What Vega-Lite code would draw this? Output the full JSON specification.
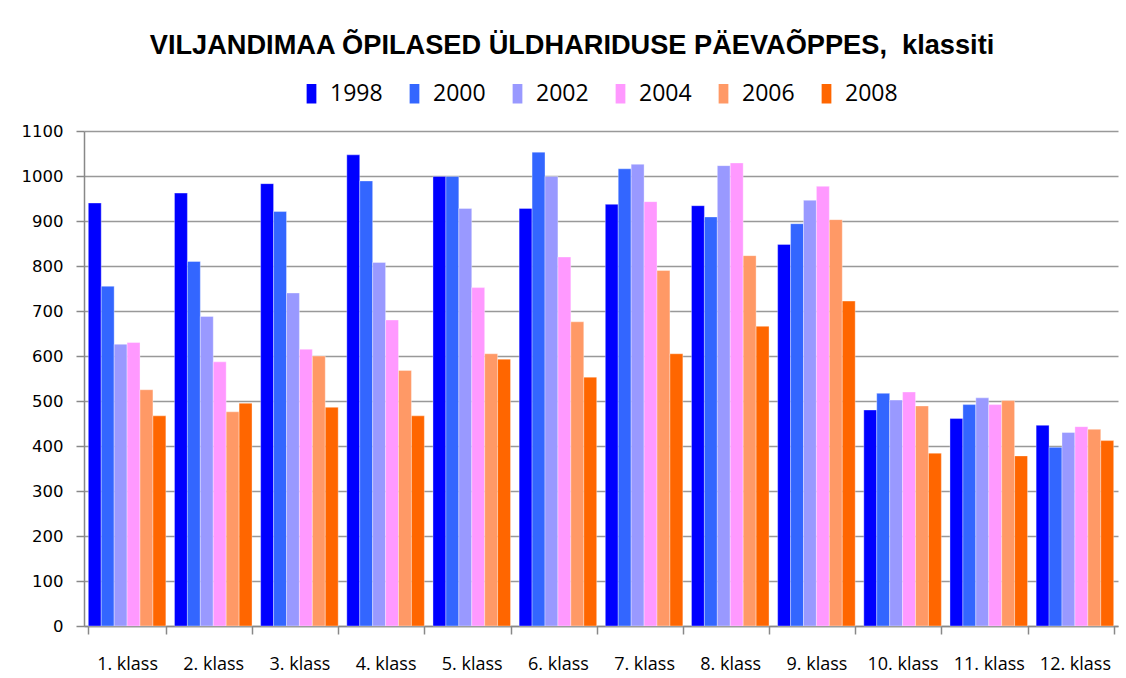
{
  "$schema": "https://vega.github.io/schema/vega-lite/v6.json",
  "width": 1034,
  "height": 495,
  "autosize": "none",
  "padding": {"left": 84, "top": 131, "right": 8, "bottom": 52},
  "background": "white",
  "title": {
    "text": "VILJANDIMAA ÕPILASED ÜLDHARIDUSE PÄEVAÕPPES, \u00a0klassiti",
    "font": "Liberation Sans",
    "fontSize": 27.2,
    "fontWeight": "bold",
    "color": "black",
    "anchor": "middle",
    "frame": "group",
    "dx": -29,
    "offset": 22
  },
  "data": {
    "values": [
      {"klass": "1. klass", "aasta": "1998", "v": 940},
      {"klass": "1. klass", "aasta": "2000", "v": 755},
      {"klass": "1. klass", "aasta": "2002", "v": 626},
      {"klass": "1. klass", "aasta": "2004", "v": 630},
      {"klass": "1. klass", "aasta": "2006", "v": 525},
      {"klass": "1. klass", "aasta": "2008", "v": 467},
      {"klass": "2. klass", "aasta": "1998", "v": 962},
      {"klass": "2. klass", "aasta": "2000", "v": 810},
      {"klass": "2. klass", "aasta": "2002", "v": 688},
      {"klass": "2. klass", "aasta": "2004", "v": 587},
      {"klass": "2. klass", "aasta": "2006", "v": 476},
      {"klass": "2. klass", "aasta": "2008", "v": 495},
      {"klass": "3. klass", "aasta": "1998", "v": 983},
      {"klass": "3. klass", "aasta": "2000", "v": 921},
      {"klass": "3. klass", "aasta": "2002", "v": 740},
      {"klass": "3. klass", "aasta": "2004", "v": 615},
      {"klass": "3. klass", "aasta": "2006", "v": 600},
      {"klass": "3. klass", "aasta": "2008", "v": 486},
      {"klass": "4. klass", "aasta": "1998", "v": 1047},
      {"klass": "4. klass", "aasta": "2000", "v": 989},
      {"klass": "4. klass", "aasta": "2002", "v": 808},
      {"klass": "4. klass", "aasta": "2004", "v": 680},
      {"klass": "4. klass", "aasta": "2006", "v": 568},
      {"klass": "4. klass", "aasta": "2008", "v": 467},
      {"klass": "5. klass", "aasta": "1998", "v": 999},
      {"klass": "5. klass", "aasta": "2000", "v": 999},
      {"klass": "5. klass", "aasta": "2002", "v": 928},
      {"klass": "5. klass", "aasta": "2004", "v": 752},
      {"klass": "5. klass", "aasta": "2006", "v": 605},
      {"klass": "5. klass", "aasta": "2008", "v": 593},
      {"klass": "6. klass", "aasta": "1998", "v": 928},
      {"klass": "6. klass", "aasta": "2000", "v": 1053},
      {"klass": "6. klass", "aasta": "2002", "v": 999},
      {"klass": "6. klass", "aasta": "2004", "v": 820},
      {"klass": "6. klass", "aasta": "2006", "v": 676},
      {"klass": "6. klass", "aasta": "2008", "v": 553},
      {"klass": "7. klass", "aasta": "1998", "v": 937},
      {"klass": "7. klass", "aasta": "2000", "v": 1016},
      {"klass": "7. klass", "aasta": "2002", "v": 1026},
      {"klass": "7. klass", "aasta": "2004", "v": 943},
      {"klass": "7. klass", "aasta": "2006", "v": 790},
      {"klass": "7. klass", "aasta": "2008", "v": 605},
      {"klass": "8. klass", "aasta": "1998", "v": 934},
      {"klass": "8. klass", "aasta": "2000", "v": 909},
      {"klass": "8. klass", "aasta": "2002", "v": 1023},
      {"klass": "8. klass", "aasta": "2004", "v": 1029},
      {"klass": "8. klass", "aasta": "2006", "v": 823},
      {"klass": "8. klass", "aasta": "2008", "v": 666},
      {"klass": "9. klass", "aasta": "1998", "v": 848},
      {"klass": "9. klass", "aasta": "2000", "v": 894},
      {"klass": "9. klass", "aasta": "2002", "v": 946},
      {"klass": "9. klass", "aasta": "2004", "v": 977},
      {"klass": "9. klass", "aasta": "2006", "v": 903},
      {"klass": "9. klass", "aasta": "2008", "v": 722},
      {"klass": "10. klass", "aasta": "1998", "v": 480},
      {"klass": "10. klass", "aasta": "2000", "v": 517},
      {"klass": "10. klass", "aasta": "2002", "v": 502},
      {"klass": "10. klass", "aasta": "2004", "v": 520},
      {"klass": "10. klass", "aasta": "2006", "v": 489},
      {"klass": "10. klass", "aasta": "2008", "v": 384},
      {"klass": "11. klass", "aasta": "1998", "v": 461},
      {"klass": "11. klass", "aasta": "2000", "v": 492},
      {"klass": "11. klass", "aasta": "2002", "v": 507},
      {"klass": "11. klass", "aasta": "2004", "v": 492},
      {"klass": "11. klass", "aasta": "2006", "v": 501},
      {"klass": "11. klass", "aasta": "2008", "v": 378},
      {"klass": "12. klass", "aasta": "1998", "v": 446},
      {"klass": "12. klass", "aasta": "2000", "v": 397},
      {"klass": "12. klass", "aasta": "2002", "v": 430},
      {"klass": "12. klass", "aasta": "2004", "v": 443},
      {"klass": "12. klass", "aasta": "2006", "v": 437},
      {"klass": "12. klass", "aasta": "2008", "v": 412}
    ]
  },
  "mark": {"type": "bar", "stroke": "white", "strokeOpacity": 0.35, "strokeWidth": 1},
  "encoding": {
    "x": {
      "field": "klass",
      "type": "nominal",
      "sort": null,
      "scale": {"paddingInner": 0.1, "paddingOuter": 0.05},
      "axis": {
        "title": null,
        "labelAngle": 0,
        "labelFont": "Open Sans",
        "labelFontSize": 18,
        "labelColor": "black",
        "labelPadding": 21,
        "tickBand": "extent",
        "tickSize": 8,
        "tickColor": "#888888",
        "tickWidth": 1.5,
        "domainColor": "#888888",
        "domainWidth": 1.5
      }
    },
    "xOffset": {"field": "aasta", "type": "nominal"},
    "y": {
      "field": "v",
      "type": "quantitative",
      "scale": {"domain": [0, 1100], "nice": false},
      "axis": {
        "title": null,
        "format": "d",
        "values": [0, 100, 200, 300, 400, 500, 600, 700, 800, 900, 1000, 1100],
        "labelFont": "DejaVu Sans",
        "labelFontSize": 16.5,
        "labelColor": "black",
        "labelPadding": 13,
        "tickSize": 8,
        "tickColor": "#888888",
        "tickWidth": 1.5,
        "domainColor": "#888888",
        "domainWidth": 1.5,
        "grid": true,
        "gridColor": "#999999",
        "gridWidth": 1.5
      }
    },
    "color": {
      "field": "aasta",
      "type": "nominal",
      "scale": {
        "domain": ["1998", "2000", "2002", "2004", "2006", "2008"],
        "range": ["#0000FF", "#3366FF", "#9999FF", "#FF99FF", "#FF9966", "#FF6600"]
      },
      "legend": {
        "title": null,
        "orient": "none",
        "direction": "horizontal",
        "legendX": 216,
        "legendY": -49,
        "symbolType": "M-0.5,-1L0.5,-1L0.5,1L-0.5,1Z",
        "symbolSize": 380,
        "symbolStrokeWidth": 0,
        "labelFont": "Open Sans",
        "labelFontSize": 23,
        "labelColor": "black",
        "labelOffset": 7,
        "columnPadding": 20
      }
    }
  },
  "config": {"view": {"stroke": null}}
}
